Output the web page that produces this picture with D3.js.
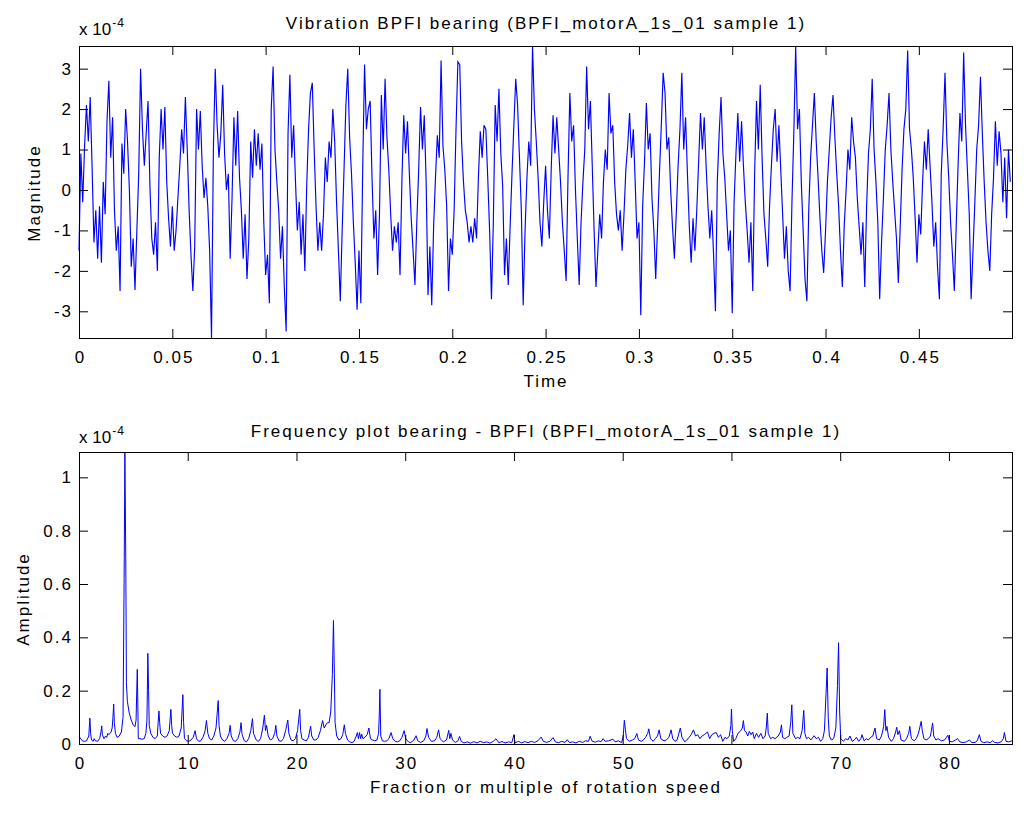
<!DOCTYPE html>
<html><head><meta charset="utf-8">
<script src="https://cdn.jsdelivr.net/npm/d3@7"></script>
<style>
body{margin:0;background:#fff}
text{font-family:"Liberation Sans",Arial,Helvetica,sans-serif;fill:#000;letter-spacing:2px}
</style>
</head><body>
<svg id="chart" width="1024" height="815"></svg>
<script>
// ---------------- data ----------------
const vibTitle = "Vibration BPFI bearing (BPFI_motorA_1s_01 sample 1)";
const freqTitle = "Frequency plot bearing - BPFI (BPFI_motorA_1s_01 sample 1)";
const vibXLabel = "Time", vibYLabel = "Magnitude";
const freqXLabel = "Fraction or multiple of rotation speed", freqYLabel = "Amplitude";
const exponentBase = "x 10", exponentLabel = "-4";

const sampleStep = 0.001;          // seconds between plotted samples
const timeMax = 0.4999;
// vibration magnitude (x 1e-4), one value per sample
const vibration = [
-1.5,0.9,-0.3,1.1,2.1,1.2,2.3,0.6,-1.3,-0.5,
-1.7,-0.4,-1.8,0.2,-0.6,1.7,2.7,0.8,1.8,-0.5,
-1.5,-0.9,-2.5,1.15,0.4,2.0,1.2,0.0,-1.9,-1.2,
-2.47,-1.0,0.4,3.0,1.5,0.6,1.4,2.2,0.1,-1.2,
-1.6,-0.8,-2.0,0.8,2.0,1.0,2.05,0.2,-0.7,-1.4,
-0.4,-1.5,-1.0,-0.2,0.6,1.5,0.9,2.3,1.0,-0.5,
-1.6,-2.5,-1.4,2.0,1.0,1.95,0.6,-0.2,0.3,-0.4,
-1.5,-3.66,1.0,3.0,1.6,0.8,1.4,2.6,0.9,0.0,
0.4,-1.7,-0.2,1.8,0.6,1.95,0.3,-0.5,-1.7,-0.6,
-2.2,-1.2,1.2,0.3,1.5,0.6,1.4,0.5,1.15,-0.8,
-2.1,-1.6,-2.8,2.0,3.05,1.0,0.2,-0.5,-1.7,-0.9,
-2.4,-3.5,1.4,2.85,0.8,1.6,0.2,-1.0,-0.3,-1.6,
-0.6,-2.0,0.1,1.5,2.4,2.65,1.0,-0.4,-1.5,-0.8,
-1.5,-0.6,0.8,0.2,1.2,0.8,2.0,1.2,-0.3,-1.5,
-2.75,-1.0,0.5,2.1,3.0,1.3,0.4,-0.8,-1.8,-2.96,
-1.5,-2.8,0.5,3.1,1.5,2.0,2.2,0.3,-1.2,-0.5,
-2.1,-0.6,2.35,1.0,2.75,1.3,0.5,-0.6,-1.5,-0.9,
-1.3,-0.8,-2.1,0.2,1.85,0.9,1.7,0.4,-0.7,-1.5,
-2.35,-0.8,0.5,2.05,1.0,1.85,0.2,-2.6,-1.4,-2.85,
-0.9,0.3,1.35,0.8,3.2,1.1,0.5,-0.4,-2.5,-1.2,
-1.6,-0.5,1.5,3.17,3.1,1.2,0.2,-0.5,-0.8,-1.3,
-0.9,-1.3,-0.7,-1.2,0.3,1.45,0.8,1.6,1.5,0.3,
-1.0,-2.7,-0.8,2.1,1.2,2.5,0.9,0.1,-2.1,-1.2,
-2.35,-0.9,0.4,1.6,2.75,2.1,0.8,-0.5,-2.85,-1.0,
0.3,1.2,0.6,3.56,2.0,1.2,0.3,-0.8,-1.4,-0.3,
0.6,-0.5,-1.2,0.5,1.85,0.9,1.8,1.0,0.2,-0.8,
-1.5,-2.25,0.3,2.4,1.2,1.6,0.0,-1.2,-2.35,-0.8,
0.2,1.0,3.05,1.5,2.2,0.6,-1.0,-2.4,-1.5,-0.6,
-1.2,0.2,1.0,0.5,2.4,1.4,1.6,0.2,-0.6,-1.0,
-0.5,-1.5,-0.6,0.5,1.1,1.9,0.8,1.5,0.2,-1.2,
-0.8,-3.1,-0.4,0.7,2.15,1.0,1.4,-0.2,-1.0,-2.2,
-0.9,0.4,1.6,2.9,2.4,1.0,1.3,0.0,-0.9,-1.7,
-0.6,0.6,1.5,2.9,1.0,1.8,0.4,-0.9,-1.8,-0.7,
-1.5,-0.5,0.7,1.9,1.0,1.8,0.6,-0.4,-1.2,-0.5,
-1.6,-3.0,0.2,1.4,2.3,0.9,0.3,-0.6,-1.5,-1.0,
-3.05,-0.3,0.9,1.9,0.7,1.7,0.6,-0.3,-1.0,-1.8,
-0.8,-2.5,0.4,2.2,1.0,2.6,0.8,-0.6,-1.2,-1.9,
-0.4,0.6,1.5,2.0,0.7,1.6,0.5,-0.6,-1.7,-0.9,
-2.0,-2.5,-0.3,1.4,3.55,1.5,2.0,0.2,-1.0,-2.2,
-2.75,-0.5,0.8,1.6,2.4,1.2,0.3,-0.7,-1.5,-2.05,
-1.0,0.2,1.0,1.8,2.35,1.3,0.4,-0.4,-1.5,-2.4,
-0.9,0.0,1.0,0.5,1.8,1.2,0.8,-0.2,-0.9,-1.6,
-0.8,-2.4,-0.4,0.9,1.5,2.75,1.0,0.2,-0.8,-2.7,
-1.3,-0.2,1.0,1.6,2.4,1.0,0.2,-0.5,-1.2,-2.3,
-0.9,0.5,1.5,2.0,3.45,1.5,1.0,0.3,-0.7,-1.8,
-0.6,-1.1,0.2,1.2,0.5,1.5,0.6,-0.3,-1.4,-0.8,
-1.9,-2.7,0.4,1.5,2.9,1.2,0.3,-0.8,-1.6,-2.5,
-0.9,0.6,1.9,1.2,3.4,1.6,0.5,-0.6,-2.7,-1.5,
-0.3,1.0,1.6,2.8,1.4,0.2,-0.8,-1.5,-2.0,-0.6,
0.3,1.7,0.6,1.45,0.9,-0.3,0.8,-0.7,1.0,0.2
];
const timeTicks = [0,0.05,0.1,0.15,0.2,0.25,0.3,0.35,0.4,0.45];
const timeTickLabels = ["0","0.05","0.1","0.15","0.2","0.25","0.3","0.35","0.4","0.45"];
const magTicks = [-3,-2,-1,0,1,2,3];
const magTickLabels = ["-3","-2","-1","0","1","2","3"];

// spectrum: [multiple of rotation speed, amplitude (x 1e-4)]
const spectrum = [
[0,0.03],[0.15,0.02],[0.3,0.012],[0.5,0.01],[0.7,0.012],[0.9,0.03],[1.0,0.097],[1.07,0.04],[1.15,0.015],[1.3,0.01],
[1.4,0.02],[1.5,0.012],[1.7,0.01],[1.9,0.02],[2.02,0.045],[2.09,0.068],[2.15,0.035],[2.3,0.02],[2.45,0.03],[2.55,0.025],
[2.65,0.04],[2.75,0.035],[2.85,0.04],[2.95,0.045],[3.05,0.06],[3.12,0.1],[3.19,0.15],[3.25,0.08],[3.35,0.04],[3.5,0.025],
[3.7,0.03],[3.9,0.045],[4.05,0.1],[4.15,0.62],[4.22,1.095],[4.3,0.7],[4.36,0.23],[4.45,0.16],[4.6,0.12],[4.8,0.09],
[5.0,0.07],[5.15,0.065],[5.25,0.09],[5.3,0.18],[5.36,0.28],[5.42,0.12],[5.45,0.02],[5.6,0.02],[5.8,0.018],[6.0,0.02],
[6.15,0.04],[6.25,0.09],[6.33,0.34],[6.4,0.2],[6.46,0.07],[6.6,0.04],[6.8,0.025],[7.0,0.02],[7.2,0.03],[7.35,0.124],
[7.42,0.08],[7.5,0.04],[7.7,0.03],[7.9,0.025],[8.1,0.03],[8.3,0.05],[8.45,0.13],[8.52,0.07],[8.6,0.04],[8.8,0.03],
[9.0,0.025],[9.2,0.03],[9.4,0.06],[9.55,0.185],[9.62,0.08],[9.7,0.02],[9.9,0.012],[10.1,0.01],[10.3,0.015],[10.5,0.025],
[10.68,0.05],[10.8,0.02],[11.0,0.01],[11.2,0.012],[11.4,0.025],[11.6,0.05],[11.72,0.088],[11.85,0.04],[12.0,0.02],[12.2,0.015],
[12.4,0.03],[12.6,0.06],[12.8,0.163],[12.88,0.07],[13.0,0.03],[13.2,0.015],[13.4,0.01],[13.6,0.02],[13.8,0.04],[13.9,0.07],
[14.0,0.03],[14.2,0.012],[14.4,0.01],[14.6,0.02],[14.8,0.045],[14.9,0.08],[15.0,0.035],[15.2,0.012],[15.4,0.008],[15.6,0.02],
[15.8,0.05],[15.95,0.095],[16.05,0.04],[16.3,0.015],[16.5,0.01],[16.7,0.02],[16.9,0.06],[17.05,0.108],[17.15,0.05],[17.25,0.07],
[17.4,0.03],[17.6,0.015],[17.8,0.02],[18.0,0.04],[18.1,0.07],[18.2,0.03],[18.4,0.012],[18.6,0.01],[18.8,0.02],[19.0,0.05],
[19.2,0.09],[19.3,0.04],[19.5,0.015],[19.7,0.012],[19.9,0.02],[20.1,0.05],[20.3,0.13],[20.38,0.05],[20.5,0.02],[20.7,0.015],
[20.9,0.012],[21.1,0.025],[21.3,0.067],[21.4,0.03],[21.6,0.015],[21.8,0.015],[22.0,0.025],[22.2,0.05],[22.4,0.088],[22.55,0.06],
[22.7,0.072],[22.85,0.08],[23.0,0.08],[23.15,0.12],[23.3,0.26],[23.4,0.463],[23.47,0.3],[23.55,0.08],[23.7,0.03],[23.9,0.015],
[24.1,0.02],[24.25,0.035],[24.4,0.072],[24.5,0.04],[24.7,0.015],[24.9,0.008],[25.1,0.005],[25.3,0.01],[25.5,0.03],[25.6,0.043],
[25.7,0.02],[25.8,0.043],[25.9,0.02],[26.0,0.037],[26.1,0.02],[26.3,0.025],[26.5,0.035],[26.66,0.06],[26.8,0.02],[27.0,0.015],
[27.2,0.012],[27.4,0.015],[27.55,0.04],[27.62,0.116],[27.67,0.205],[27.75,0.03],[27.9,0.012],[28.1,0.01],[28.3,0.012],[28.5,0.02],
[28.7,0.043],[28.85,0.02],[29.1,0.01],[29.3,0.008],[29.5,0.012],[29.7,0.025],[29.9,0.05],[30.05,0.02],[30.3,0.008],[30.5,0.005],
[30.8,0.015],[31.0,0.031],[31.15,0.012],[31.4,0.006],[31.7,0.012],[31.9,0.03],[32.0,0.058],[32.15,0.025],[32.4,0.01],[32.7,0.012],
[32.9,0.025],[33.07,0.053],[33.2,0.02],[33.5,0.008],[33.8,0.015],[34.0,0.051],[34.1,0.02],[34.2,0.04],[34.35,0.015],[34.6,0.006],
[34.85,0.012],[35.0,0.028],[35.15,0.01],[35.4,0.004],[35.7,0.008],[36.0,0.003],[36.3,0.009],[36.6,0.004],[36.9,0.01],[37.2,0.005],
[37.5,0.008],[37.8,0.003],[38.1,0.01],[38.35,0.02],[38.6,0.005],[38.9,0.009],[39.2,0.004],[39.5,0.008],[39.8,0.005],[40.0,0.035],
[40.1,0.004],[40.4,0.01],[40.7,0.004],[41.0,0.009],[41.3,0.005],[41.6,0.01],[41.9,0.006],[42.2,0.012],[42.5,0.026],[42.7,0.01],
[43.0,0.006],[43.3,0.01],[43.6,0.024],[43.8,0.008],[44.1,0.005],[44.4,0.01],[44.7,0.006],[44.9,0.016],[45.1,0.005],[45.4,0.008],
[45.7,0.004],[46.0,0.01],[46.3,0.006],[46.6,0.012],[46.85,0.01],[47.0,0.029],[47.2,0.01],[47.5,0.007],[47.8,0.012],[48.0,0.008],
[48.2,0.02],[48.4,0.01],[48.7,0.012],[49.1,0.018],[49.3,0.008],[49.6,0.012],[49.9,0.005],[50.05,0.03],[50.15,0.089],[50.25,0.054],
[50.35,0.02],[50.6,0.01],[50.9,0.015],[51.1,0.02],[51.3,0.039],[51.45,0.015],[51.7,0.01],[51.9,0.015],[52.1,0.025],[52.3,0.04],
[52.4,0.057],[52.55,0.02],[52.8,0.01],[53.0,0.02],[53.2,0.03],[53.35,0.053],[53.5,0.02],[53.8,0.012],[54.0,0.015],[54.25,0.025],
[54.45,0.053],[54.6,0.02],[54.8,0.01],[55.0,0.015],[55.3,0.06],[55.45,0.025],[55.7,0.008],[55.9,0.015],[56.1,0.025],[56.3,0.035],
[56.5,0.053],[56.7,0.03],[56.9,0.035],[57.1,0.02],[57.3,0.03],[57.5,0.035],[57.8,0.045],[58.0,0.02],[58.2,0.035],[58.4,0.04],
[58.6,0.043],[58.8,0.025],[59.0,0.035],[59.2,0.01],[59.4,0.025],[59.6,0.02],[59.8,0.03],[59.95,0.07],[60.0,0.131],[60.08,0.05],
[60.2,0.01],[60.4,0.02],[60.6,0.04],[60.8,0.047],[61.0,0.06],[61.1,0.088],[61.2,0.05],[61.35,0.045],[61.5,0.03],[61.65,0.047],
[61.8,0.035],[61.95,0.045],[62.1,0.02],[62.3,0.04],[62.5,0.025],[62.7,0.04],[62.9,0.02],[63.1,0.03],[63.2,0.06],[63.3,0.116],
[63.38,0.04],[63.6,0.02],[63.8,0.025],[64.0,0.02],[64.3,0.03],[64.5,0.045],[64.6,0.072],[64.7,0.025],[64.9,0.02],[65.1,0.025],
[65.3,0.03],[65.45,0.081],[65.55,0.147],[65.65,0.04],[65.9,0.02],[66.1,0.025],[66.3,0.02],[66.5,0.05],[66.65,0.126],[66.75,0.04],
[66.9,0.02],[67.1,0.025],[67.3,0.015],[67.6,0.031],[67.8,0.02],[68.0,0.025],[68.2,0.01],[68.4,0.02],[68.55,0.05],[68.7,0.19],
[68.8,0.285],[68.9,0.1],[69.0,0.03],[69.2,0.015],[69.4,0.02],[69.6,0.06],[69.75,0.22],[69.85,0.38],[69.95,0.12],[70.05,0.02],
[70.3,0.01],[70.5,0.02],[70.7,0.015],[70.9,0.03],[71.1,0.01],[71.3,0.015],[71.5,0.025],[71.7,0.01],[71.9,0.02],[72.0,0.035],
[72.2,0.012],[72.4,0.02],[72.6,0.015],[72.8,0.025],[73.0,0.03],[73.2,0.06],[73.35,0.02],[73.6,0.015],[73.8,0.03],[74.0,0.066],
[74.1,0.129],[74.2,0.05],[74.3,0.066],[74.45,0.025],[74.7,0.01],[74.9,0.02],[75.1,0.045],[75.2,0.063],[75.3,0.035],[75.45,0.05],
[75.6,0.015],[75.9,0.01],[76.1,0.02],[76.3,0.04],[76.4,0.066],[76.55,0.02],[76.8,0.012],[77.0,0.02],[77.2,0.04],[77.45,0.085],
[77.55,0.05],[77.7,0.02],[77.9,0.015],[78.1,0.02],[78.3,0.03],[78.5,0.079],[78.6,0.03],[78.8,0.015],[79.0,0.02],[79.3,0.012],
[79.6,0.015],[79.9,0.033],[80.05,0.01],[80.3,0.008],[80.6,0.015],[80.8,0.02],[81.0,0.008],[81.3,0.005],[81.6,0.008],[81.9,0.015],
[82.1,0.005],[82.4,0.006],[82.6,0.012],[82.8,0.035],[82.95,0.01],[83.2,0.005],[83.5,0.008],[83.8,0.005],[84.0,0.012],[84.2,0.006],
[84.5,0.004],[84.8,0.008],[85.0,0.02],[85.1,0.043],[85.25,0.01],[85.5,0.008],[85.8,0.012]
];
const freqMax = 85.8, ampMax = 1.095;
const freqTicks = [0,10,20,30,40,50,60,70,80];
const freqTickLabels = ["0","10","20","30","40","50","60","70","80"];
const ampTicks = [0,0.2,0.4,0.6,0.8,1];
const ampTickLabels = ["0","0.2","0.4","0.6","0.8","1"];

// ---------------- drawing ----------------
const svg = d3.select("#chart");
const L = 79, R = 1012, TICK = 9, FS = 17;
const lineColor = "#0000ff", axisColor = "#000";

function panel(top, bottom, x, y, xt, xtl, yt, ytl) {
  const g = svg.append("g");
  const fmt = (ticks, labels) => d => labels[ticks.indexOf(d)];
  const bx = g.append("g").attr("transform", `translate(0,${bottom})`)
    .call(d3.axisBottom(x).tickValues(xt).tickFormat(fmt(xt, xtl)).tickSize(-TICK).tickSizeOuter(0).tickPadding(13));
  const tx = g.append("g").attr("transform", `translate(0,${top})`)
    .call(d3.axisTop(x).tickValues(xt).tickFormat("").tickSize(-TICK).tickSizeOuter(0));
  const ly = g.append("g").attr("transform", `translate(${L},0)`)
    .call(d3.axisLeft(y).tickValues(yt).tickFormat(fmt(yt, ytl)).tickSize(-TICK).tickSizeOuter(0).tickPadding(6));
  const ry = g.append("g").attr("transform", `translate(${R},0)`)
    .call(d3.axisRight(y).tickValues(yt).tickFormat("").tickSize(-TICK).tickSizeOuter(0));
  [bx, tx, ly, ry].forEach(a => {
    a.select(".domain").remove();
    a.selectAll("line").attr("stroke", axisColor);
    a.selectAll("text").attr("font-size", FS).attr("font-family", null).attr("fill", "#000");
  });
  bx.selectAll("text").attr("dx", 1);
  return g;
}

// ---- top: vibration ----
const t0 = 46, b0 = 338;
const xT = d3.scaleLinear().domain([0, timeMax]).range([L, R]);
const yT = d3.scaleLinear().domain(d3.extent(vibration)).range([b0, t0]);
svg.append("path")
  .attr("d", d3.line().x((d, i) => xT(i * sampleStep)).y(d => yT(d))(vibration))
  .attr("fill", "none").attr("stroke", lineColor).attr("stroke-width", 1.15);
panel(t0, b0, xT, yT, timeTicks, timeTickLabels, magTicks, magTickLabels);
svg.append("rect").attr("x", L + 0.5).attr("y", t0 + 0.5).attr("width", R - L).attr("height", b0 - t0)
  .attr("fill", "none").attr("stroke", axisColor);

// ---- bottom: spectrum ----
const t1 = 452, b1 = 744;
const xF = d3.scaleLinear().domain([0, freqMax]).range([L, R]);
const yF = d3.scaleLinear().domain([0, ampMax]).range([b1, t1]);
svg.append("path")
  .attr("d", d3.line().x(d => xF(d[0])).y(d => yF(d[1]))(spectrum))
  .attr("fill", "none").attr("stroke", lineColor).attr("stroke-width", 1);
panel(t1, b1, xF, yF, freqTicks, freqTickLabels, ampTicks, ampTickLabels);
svg.append("rect").attr("x", L + 0.5).attr("y", t1 + 0.5).attr("width", R - L).attr("height", b1 - t1)
  .attr("fill", "none").attr("stroke", axisColor);

// ---- text ----
function txt(x, y, s, size, anchor, rot) {
  const t = svg.append("text").attr("font-size", size).attr("text-anchor", anchor || "middle").text(s);
  if (rot) t.attr("transform", `translate(${x},${y}) rotate(${rot})`);
  else t.attr("x", x).attr("y", y);
  return t;
}
txt(546, 29, vibTitle, FS);
txt(546, 437, freqTitle, FS);
txt(546, 387, vibXLabel, FS);
txt(546, 793, freqXLabel, FS);
txt(40, 193, vibYLabel, FS, "middle", -90);
txt(29, 599, freqYLabel, FS, "middle", -90);
function expo(y) {
  const base = txt(79, y, exponentBase, FS, "start").style("letter-spacing", "0px");
  const bb = base.node().getBBox();
  txt(bb.x + bb.width + 1, y - 8, exponentLabel, 12, "start").style("letter-spacing", "1px");
}
expo(35);
expo(443);
</script>
</body></html>
